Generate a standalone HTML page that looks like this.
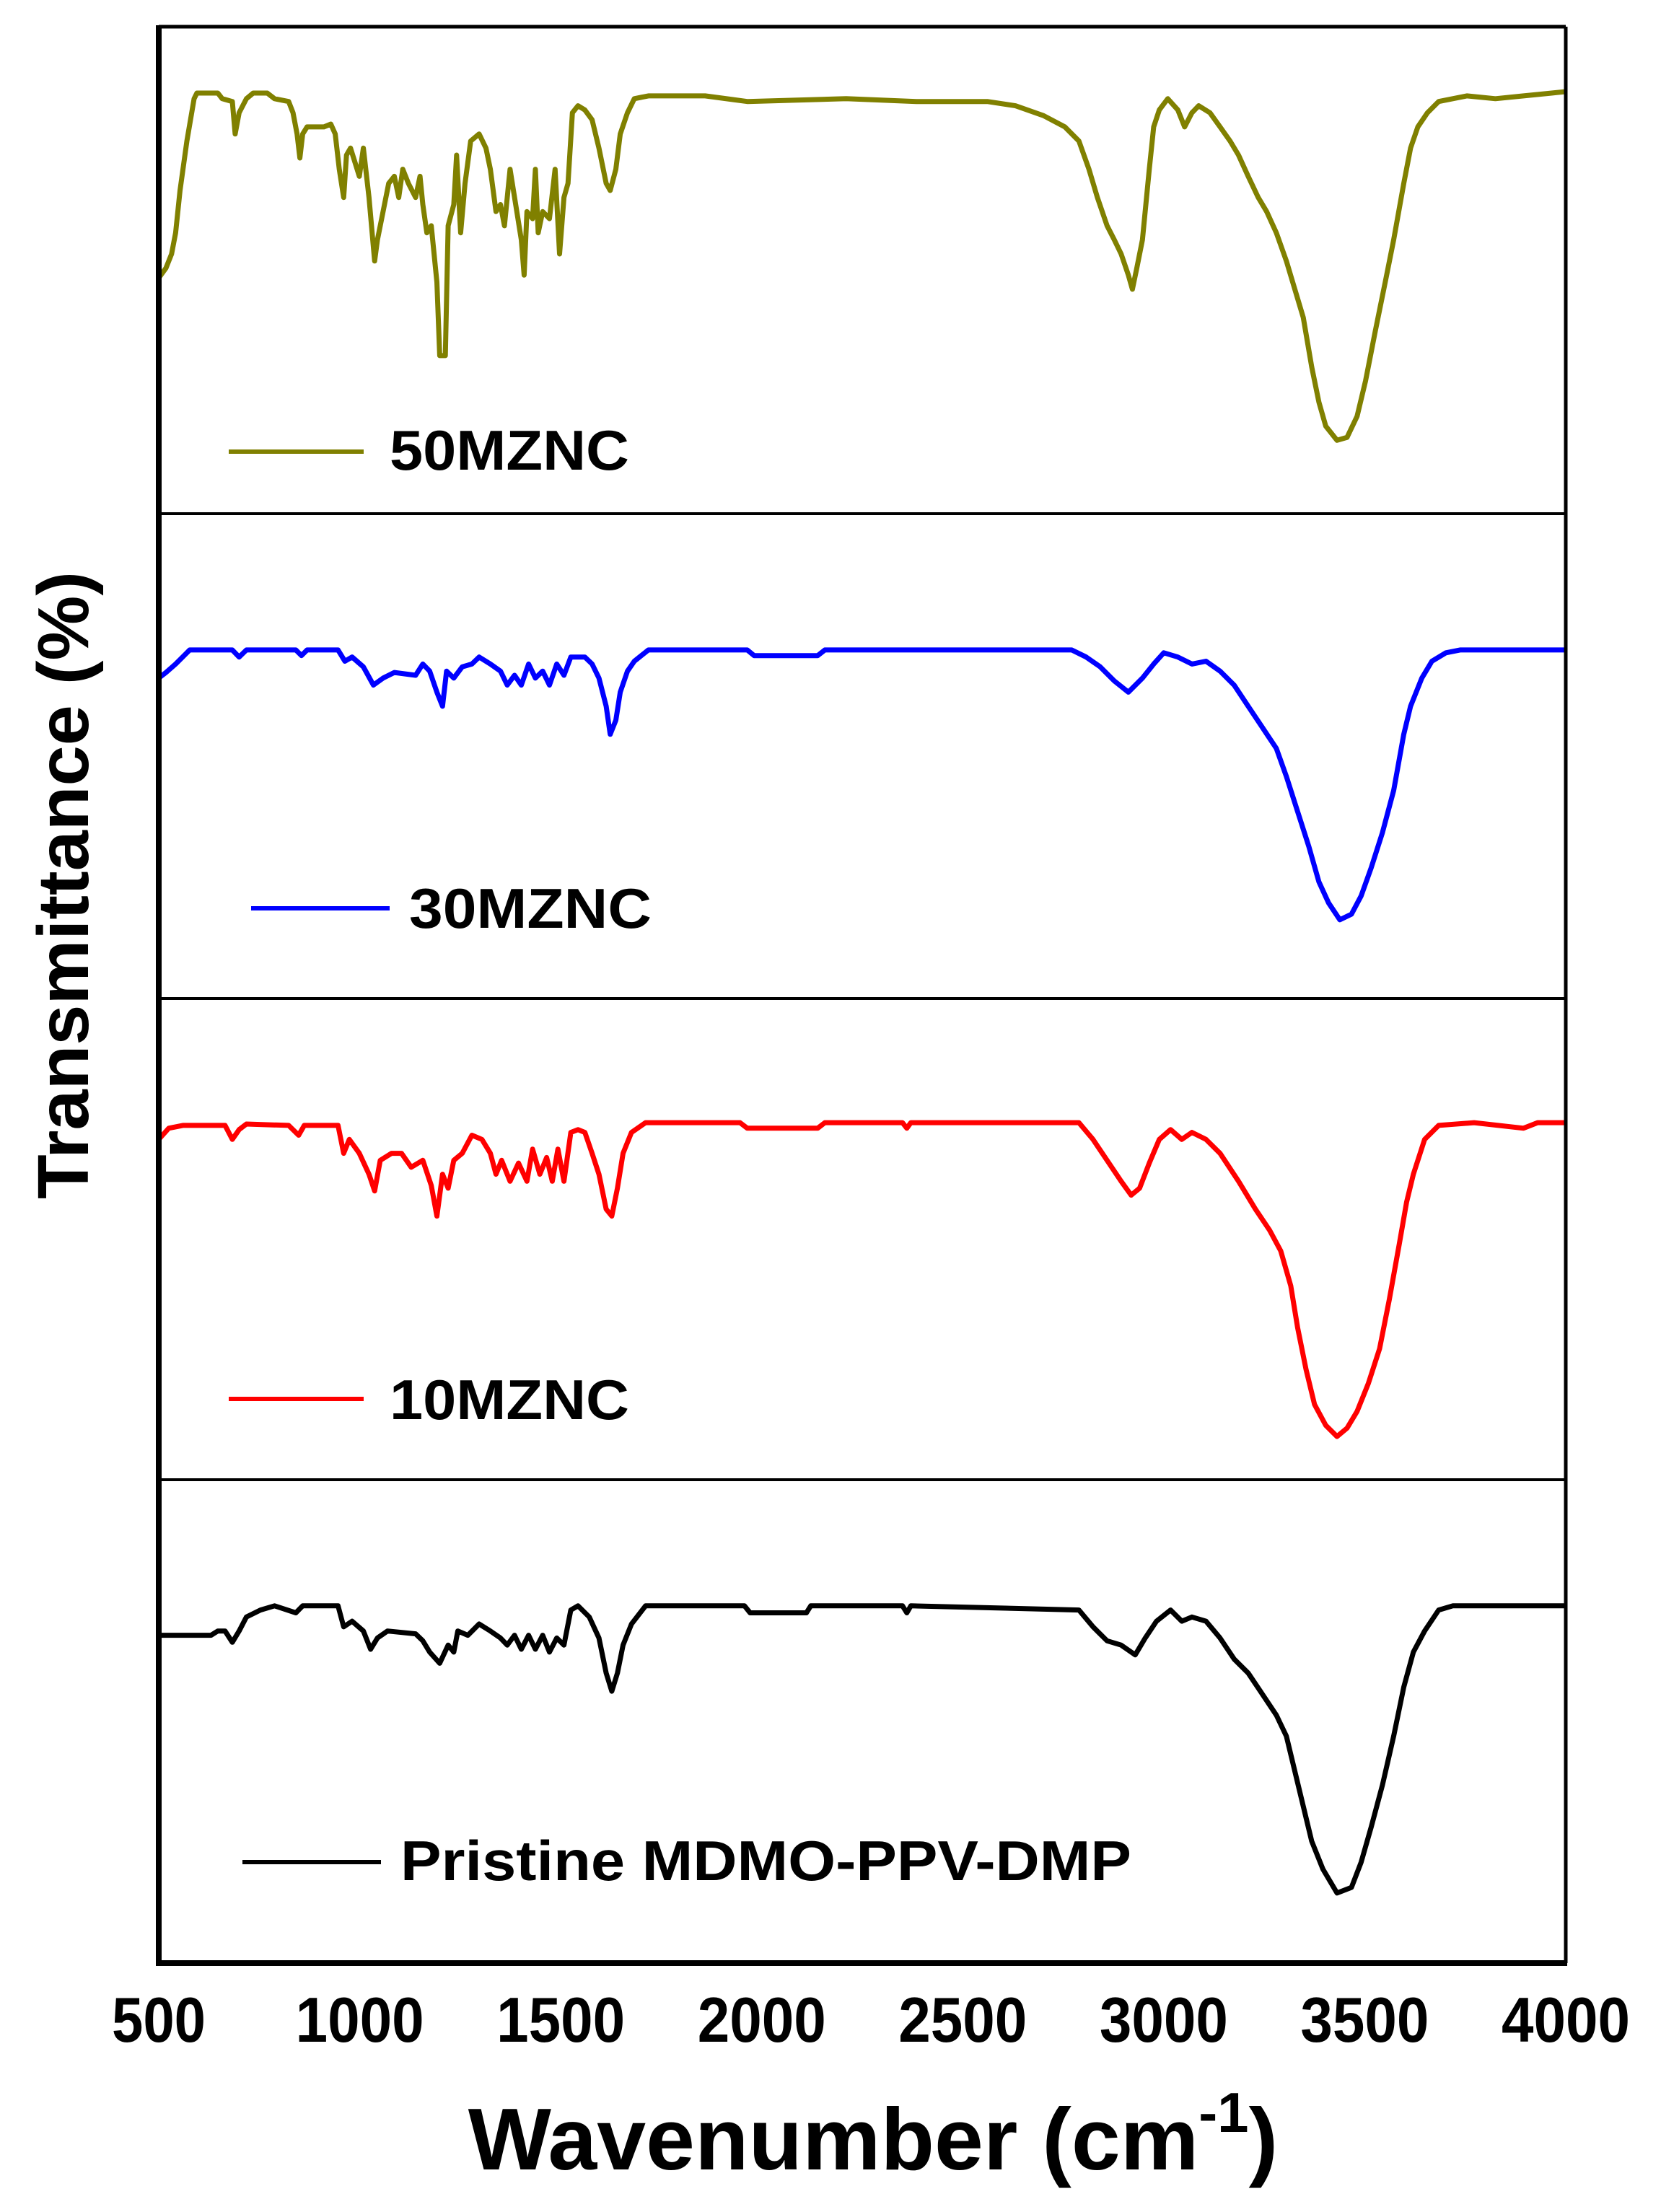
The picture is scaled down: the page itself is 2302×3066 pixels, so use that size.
<!DOCTYPE html>
<html><head><meta charset="utf-8"><style>
html,body{margin:0;padding:0;background:#fff;}
svg{display:block;font-family:"Liberation Sans",Arial,sans-serif;font-weight:bold;}
</style></head><body>
<svg id="chart" width="2302" height="3066" viewBox="0 0 2302 3066" xmlns="http://www.w3.org/2000/svg">
<g id="plots"></g>
<g id="frame"></g>
<g id="xticks"></g>
<text x="0" y="0" font-size="100" text-anchor="middle" transform="translate(122,1227) rotate(-90)" textLength="870" lengthAdjust="spacingAndGlyphs">Transmittance (%)</text>
<text x="1210" y="3007" font-size="122" text-anchor="middle">Wavenumber (cm<tspan font-size="78" dy="-52">-1</tspan><tspan dy="52">)</tspan></text>
</svg>
<script>
const xTicks = [500,1000,1500,2000,2500,3000,3500,4000];
const seriesNames = ["50MZNC","30MZNC","10MZNC","Pristine MDMO-PPV-DMP"];
const seriesColors = ["#808000","#0000ff","#ff0000","#000000"];
const wn50 = [500,518,532,542,553,570,588,595,647,658,683,690,700,718,735,770,788,823,834,844,851,858,869,911,928,939,949,960,967,977,988,999,1009,1023,1037,1044,1058,1072,1086,1097,1107,1121,1139,1150,1157,1167,1178,1192,1199,1213,1220,1234,1241,1251,1262,1276,1297,1314,1325,1339,1350,1360,1374,1388,1402,1409,1416,1430,1437,1444,1455,1472,1486,1497,1508,1518,1529,1543,1560,1578,1595,1613,1623,1637,1648,1666,1683,1718,1859,1964,2210,2385,2561,2631,2701,2754,2789,2814,2835,2859,2877,2894,2912,2922,2933,2947,2964,2975,2989,3010,3035,3052,3070,3087,3115,3140,3165,3186,3210,3235,3256,3280,3305,3326,3347,3368,3386,3403,3431,3456,3481,3502,3526,3551,3572,3597,3614,3632,3656,3684,3754,3825,3895,3965,4000];
const t50 = [167,174,184,199,229,264,294,298,298,294,292,269,284,294,298,298,294,292,284,269,252,269,274,274,276,269,244,224,254,259,249,239,259,224,179,194,214,234,239,224,244,234,224,239,219,199,204,164,112,112,204,219,254,199,234,264,269,259,244,214,219,204,244,219,194,169,214,209,244,199,214,209,244,184,224,234,284,289,286,279,259,234,229,244,269,284,294,296,296,292,294,292,292,289,282,274,264,244,224,204,194,184,169,159,174,194,244,274,286,294,286,274,284,289,284,274,264,254,239,224,214,199,179,159,139,104,79,62,52,54,69,94,129,164,194,234,259,274,284,292,296,294,296,298,299];
const wn30 = [500,518,542,577,683,700,718,841,855,869,946,963,981,1009,1034,1058,1086,1139,1157,1174,1192,1206,1216,1234,1255,1279,1297,1325,1350,1367,1385,1402,1420,1437,1455,1472,1490,1508,1525,1560,1578,1595,1613,1623,1637,1648,1666,1683,1718,1964,1981,2139,2157,2771,2807,2842,2877,2912,2947,2975,3000,3035,3070,3105,3140,3175,3210,3245,3280,3305,3333,3361,3386,3410,3438,3467,3491,3516,3544,3572,3597,3614,3642,3667,3702,3737,4000];
const t30 = [228,232,238,248,248,243,248,248,244,248,248,240,243,236,223,228,232,230,238,233,218,208,233,228,236,238,243,238,233,223,230,223,238,228,233,223,238,230,243,243,238,228,208,188,198,218,233,240,248,248,244,244,248,248,243,236,226,218,228,238,246,243,238,240,233,223,208,193,178,158,133,108,83,68,56,60,73,93,118,148,188,208,228,240,246,248,248];
const wn10 = [500,525,560,665,683,700,718,823,848,862,946,960,974,999,1023,1037,1051,1079,1104,1128,1157,1178,1192,1206,1220,1234,1255,1279,1304,1325,1339,1353,1374,1395,1416,1430,1448,1465,1479,1493,1508,1525,1543,1560,1578,1595,1613,1627,1641,1655,1676,1711,1946,1964,2139,2157,2350,2361,2371,2789,2824,2859,2894,2919,2940,2964,2989,3017,3045,3070,3105,3140,3186,3228,3263,3291,3316,3333,3354,3375,3403,3431,3456,3481,3509,3537,3561,3586,3604,3621,3649,3684,3772,3895,3930,4000];
const t10 = [244,252,254,254,244,251,255,254,247,254,254,234,244,234,219,207,229,234,234,224,229,211,189,219,209,229,234,247,244,234,219,229,214,227,214,237,219,231,214,237,214,249,251,249,234,219,194,189,209,234,249,256,256,252,252,256,256,252,256,256,244,229,214,204,209,227,244,251,244,249,244,234,214,194,179,164,139,109,79,54,39,31,37,49,69,94,129,169,199,219,244,254,256,252,256,256];
const wnP = [500,630,647,665,683,700,718,753,788,841,858,946,960,981,1009,1027,1044,1069,1139,1157,1174,1199,1220,1234,1244,1269,1297,1325,1350,1367,1385,1402,1420,1437,1455,1472,1490,1508,1525,1543,1571,1595,1613,1627,1641,1655,1676,1711,1957,1971,2111,2122,2350,2361,2371,2789,2824,2859,2894,2929,2954,2982,3017,3045,3070,3105,3140,3175,3210,3245,3280,3305,3326,3347,3368,3396,3431,3467,3491,3516,3544,3572,3597,3621,3649,3684,3719,4000];
const tP = [234,234,237,237,229,237,247,252,255,250,255,255,240,244,237,224,232,237,235,230,222,214,227,222,237,234,242,237,232,227,234,224,234,224,234,222,232,227,252,255,247,232,207,194,207,227,242,255,255,250,250,255,255,250,255,252,240,230,227,220,232,244,252,244,247,244,232,217,207,192,177,162,137,112,87,67,50,54,72,97,127,162,197,222,237,252,255,255];

const NS="http://www.w3.org/2000/svg";
const L=220,R=2170;
const panelEdges=[37,712,1384,2051,2721];
const xs = v => L + (v-500)/3500*(R-L);
const ysFor = i => v => panelEdges[i+1] - v/345*(panelEdges[i+1]-panelEdges[i]);
const wnSets=[wn50,wn30,wn10,wnP], tSets=[t50,t30,t10,tP];
const legendPos=[[317,504,626,540,651,332],[348,540,1259,567,1286,336],[317,504,1939,540,1967,332],[336,528,2581,555,2606,1013]];
const plots=document.getElementById('plots');
for(let i=0;i<4;i++){
  const ys=ysFor(i);
  const p=document.createElementNS(NS,'polyline');
  
  
  p.setAttribute('points',wnSets[i].map((w,k)=>xs(w).toFixed(1)+','+ys(tSets[i][k]).toFixed(1)).join(' '));
  p.setAttribute('fill','none');p.setAttribute('stroke',seriesColors[i]);
  p.setAttribute('stroke-width','7');p.setAttribute('stroke-linejoin','round');
  plots.appendChild(p);
  const lp=legendPos[i];
  const ll=document.createElementNS(NS,'line');
  
  
  ll.setAttribute('x1',lp[0]);ll.setAttribute('x2',lp[1]);ll.setAttribute('y1',lp[2]);ll.setAttribute('y2',lp[2]);
  ll.setAttribute('stroke',seriesColors[i]);ll.setAttribute('stroke-width','6');
  plots.appendChild(ll);
  const lt=document.createElementNS(NS,'text');
  
  
  lt.setAttribute('x',lp[3]);lt.setAttribute('y',lp[4]);lt.setAttribute('font-size','78');
  lt.setAttribute('textLength',lp[5]);lt.setAttribute('lengthAdjust','spacingAndGlyphs');
  lt.textContent=seriesNames[i];
  plots.appendChild(lt);
}
const frame=document.getElementById('frame');
function line(x1,y1,x2,y2,w,name){
  const l=document.createElementNS(NS,'line');
  
  
  l.setAttribute('x1',x1);l.setAttribute('y1',y1);l.setAttribute('x2',x2);l.setAttribute('y2',y2);
  l.setAttribute('stroke','#000');l.setAttribute('stroke-width',w);
  frame.appendChild(l);
}
line(L,37,R,37,5,'top-border');
line(R,37,R,2721,5,'right-border');
for(let i=1;i<4;i++) line(L,panelEdges[i],R,panelEdges[i],4,'panel-divider');
line(L,35,L,2725,8,'y-axis-line');
line(L-4,2721,R+2,2721,8,'x-axis-line');
const xt=document.getElementById('xticks');
xTicks.forEach(v=>{
  const t=document.createElementNS(NS,'text');
  
  
  t.setAttribute('x',xs(v));t.setAttribute('y',2830);t.setAttribute('font-size','88');
  t.setAttribute('text-anchor','middle');
  t.setAttribute('textLength',String(v).length===3?130:178);
  t.setAttribute('lengthAdjust','spacingAndGlyphs');
  t.textContent=v;
  xt.appendChild(t);
});
</script>
</body></html>
